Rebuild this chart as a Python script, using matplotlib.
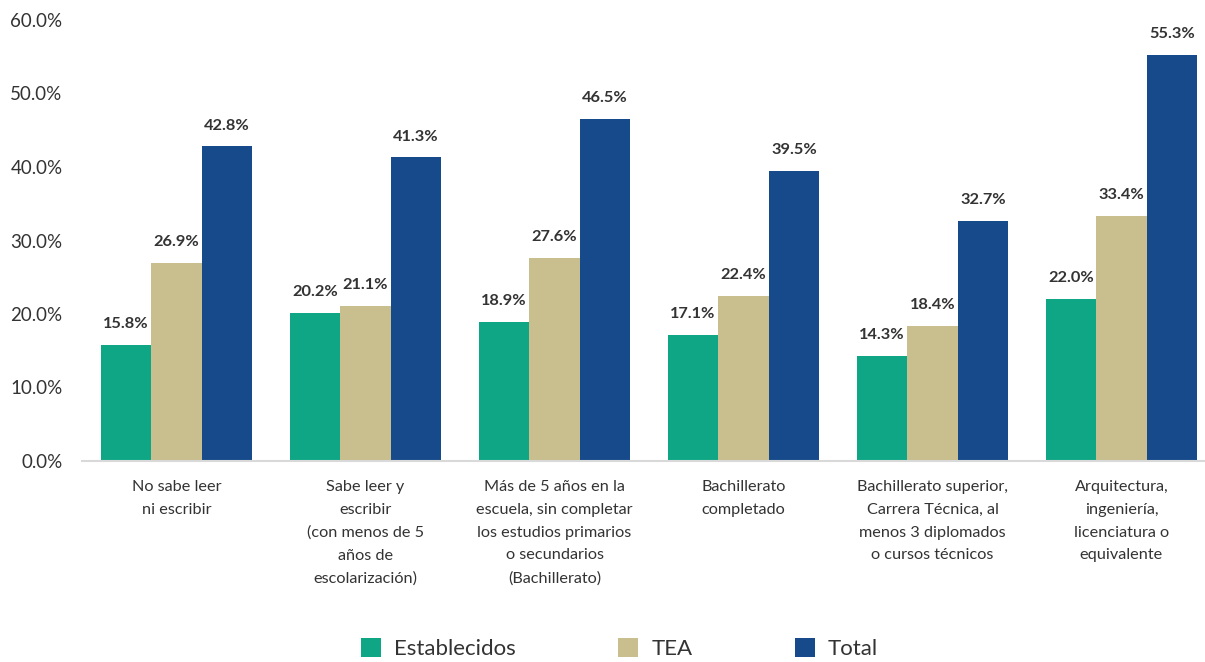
import numpy as np
import matplotlib.pyplot as plt
from matplotlib.ticker import FuncFormatter

categories = [
    "No sabe leer\nni escribir",
    "Sabe leer y\nescribir\n(con menos de 5\naños de\nescolarización)",
    "Más de 5 años en la\nescuela, sin completar\nlos estudios primarios\no secundarios\n(Bachillerato)",
    "Bachillerato\ncompletado",
    "Bachillerato superior,\nCarrera Técnica, al\nmenos 3 diplomados\no cursos técnicos",
    "Arquitectura,\ningeniería,\nlicenciatura o\nequivalente",
]
establecidos = [15.8, 20.2, 18.9, 17.1, 14.3, 22.0]
tea = [26.9, 21.1, 27.6, 22.4, 18.4, 33.4]
total = [42.8, 41.3, 46.5, 39.5, 32.7, 55.3]

series = [("Establecidos", establecidos, "#0fa685"),
          ("TEA", tea, "#c8be8e"),
          ("Total", total, "#174a8b")]

plt.rcParams['font.family'] = ['Lato', 'DejaVu Sans']
text_color = "#333333"

fig = plt.figure(figsize=(12.05, 6.62), dpi=100)
ax = fig.add_axes([82 / 1205, 1 - 461 / 662, 1134 / 1205, 441 / 662])

x = np.arange(len(categories))
w = 0.267
for i, (name, vals, color) in enumerate(series):
    bars = ax.bar(x + (i - 1) * w, vals, w, color=color, label=name)
    for b, v in zip(bars, vals):
        ax.annotate(f"{v:.1f}%", (b.get_x() + b.get_width() / 2, v),
                    xytext=(0, 10), textcoords="offset points",
                    ha="center", va="bottom", fontsize=11.8, fontweight="bold",
                    color=text_color)

ax.set_xlim(-0.5, len(categories) - 0.5)
ax.set_ylim(0, 60)
ax.set_yticks(np.arange(0, 61, 10))
ax.yaxis.set_major_formatter(FuncFormatter(lambda v, p: f"{v:.1f}%"))
ax.set_xticks(x)
ax.set_xticklabels(categories, fontsize=11.7, color=text_color, linespacing=1.78)
ax.tick_params(axis="y", length=0, labelsize=13.5, labelcolor=text_color, pad=14)
ax.tick_params(axis="x", length=0, pad=14)

for s in ["top", "right", "left"]:
    ax.spines[s].set_visible(False)
ax.spines["bottom"].set_color("#d9d9d9")
ax.spines["bottom"].set_linewidth(1.5)

leg = fig.legend(loc="lower center", bbox_to_anchor=(0.514, -0.026), ncol=3,
                 frameon=False, fontsize=16, handlelength=0.9, handleheight=0.9,
                 columnspacing=4.6, handletextpad=0.6)
for t in leg.get_texts():
    t.set_color(text_color)

fig.savefig("out.png", dpi=100)
